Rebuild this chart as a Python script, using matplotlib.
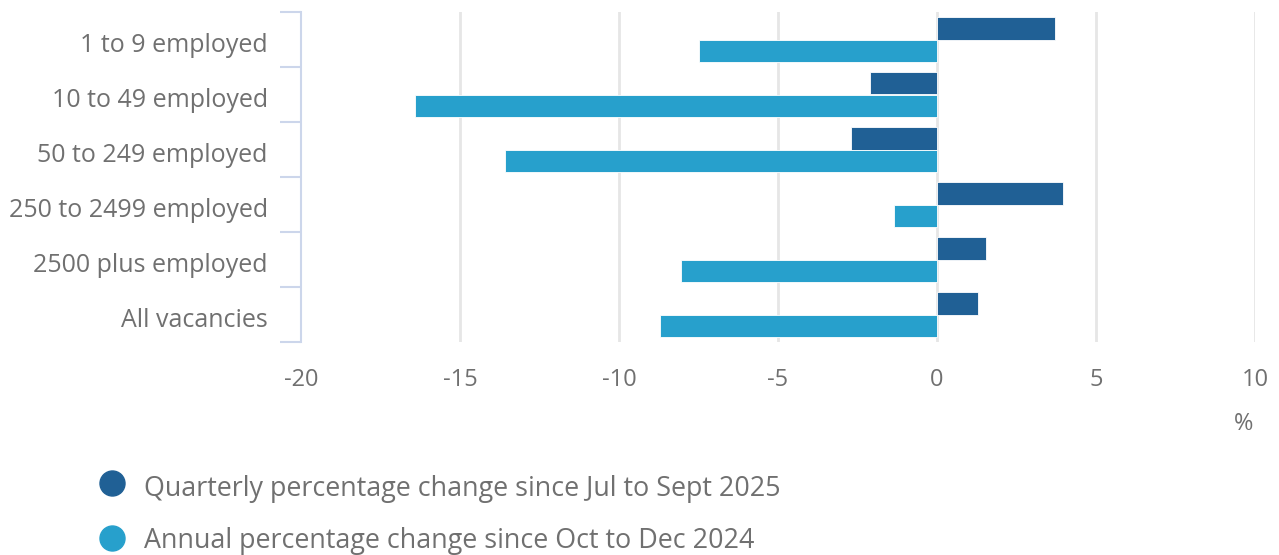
import matplotlib
matplotlib.use("Agg")
import matplotlib.pyplot as plt
from matplotlib.lines import Line2D
import matplotlib.transforms as mtransforms
import numpy as np

categories = ["1 to 9 employed", "10 to 49 employed", "50 to 249 employed",
              "250 to 2499 employed", "2500 plus employed", "All vacancies"]
quarterly = [3.7, -2.1, -2.7, 3.95, 1.55, 1.3]
annual = [-7.5, -16.4, -13.6, -1.35, -8.05, -8.7]
series_names = ["Quarterly percentage change since Jul to Sept 2025",
                "Annual percentage change since Oct to Dec 2024"]
xticks = [-20, -15, -10, -5, 0, 5, 10]

c_q = "#206095"
c_a = "#27a0cc"
txt = "#707070"
axis_c = "#ccd6eb"

plt.rcParams['font.family'] = ['Open Sans', 'DejaVu Sans']

W, H = 1279, 555
fig = plt.figure(figsize=(W/100, H/100), dpi=100)
ax = fig.add_axes([301/W, 1-342/H, (1255-301)/W, (342-12)/H])

y = np.arange(len(categories))
h = 0.41
ax.barh(y - 0.205, quarterly, height=h, color=c_q, edgecolor="#ffffff", linewidth=0.6, zorder=3)
ax.barh(y + 0.205, annual, height=h, color=c_a, edgecolor="#ffffff", linewidth=0.6, zorder=3)

ax.set_xlim(-20, 10)
ax.set_ylim(len(categories) - 0.5, -0.5)

ax.set_xticks(xticks)
ax.set_xticklabels([str(t) for t in xticks])
for t in xticks:
    if t != -20:
        ax.axvline(t, color="#e6e6e6", linewidth=2, zorder=1)

ax.set_yticks(y)
ax.set_yticklabels(categories)
ax.set_yticks(np.arange(len(categories) + 1) - 0.5, minor=True)
ax.tick_params(axis='y', which='major', length=0, pad=24, labelsize=18, labelcolor=txt)
ax.tick_params(axis='y', which='minor', length=15, width=1.5, color=axis_c, direction='out')
ax.tick_params(axis='x', which='major', length=0, pad=19, labelsize=17, labelcolor=txt)

offset = mtransforms.ScaledTranslation(0, -3/100, fig.dpi_scale_trans)
for lab in ax.get_yticklabels():
    lab.set_transform(lab.get_transform() + offset)

for s in ["top", "right", "bottom"]:
    ax.spines[s].set_visible(False)
ax.spines["left"].set_color(axis_c)
ax.spines["left"].set_linewidth(1.5)
ax.spines["left"].set_zorder(4)

fig.text(1244/W, 1-424/H, "%", ha="center", va="center", fontsize=17, color=txt)

for i, (name, col) in enumerate(zip(series_names, [c_q, c_a])):
    yc = 1 - (482.5 + i*55.5)/H
    yt = 1 - (489 + i*52)/H
    fig.add_artist(Line2D([112/W], [yc], marker='o', markersize=18, color=col,
                          linestyle='none', transform=fig.transFigure))
    fig.text(144/W, yt, name, ha="left", va="center", fontsize=19.4, color=txt)

fig.savefig("out.png", dpi=100)
